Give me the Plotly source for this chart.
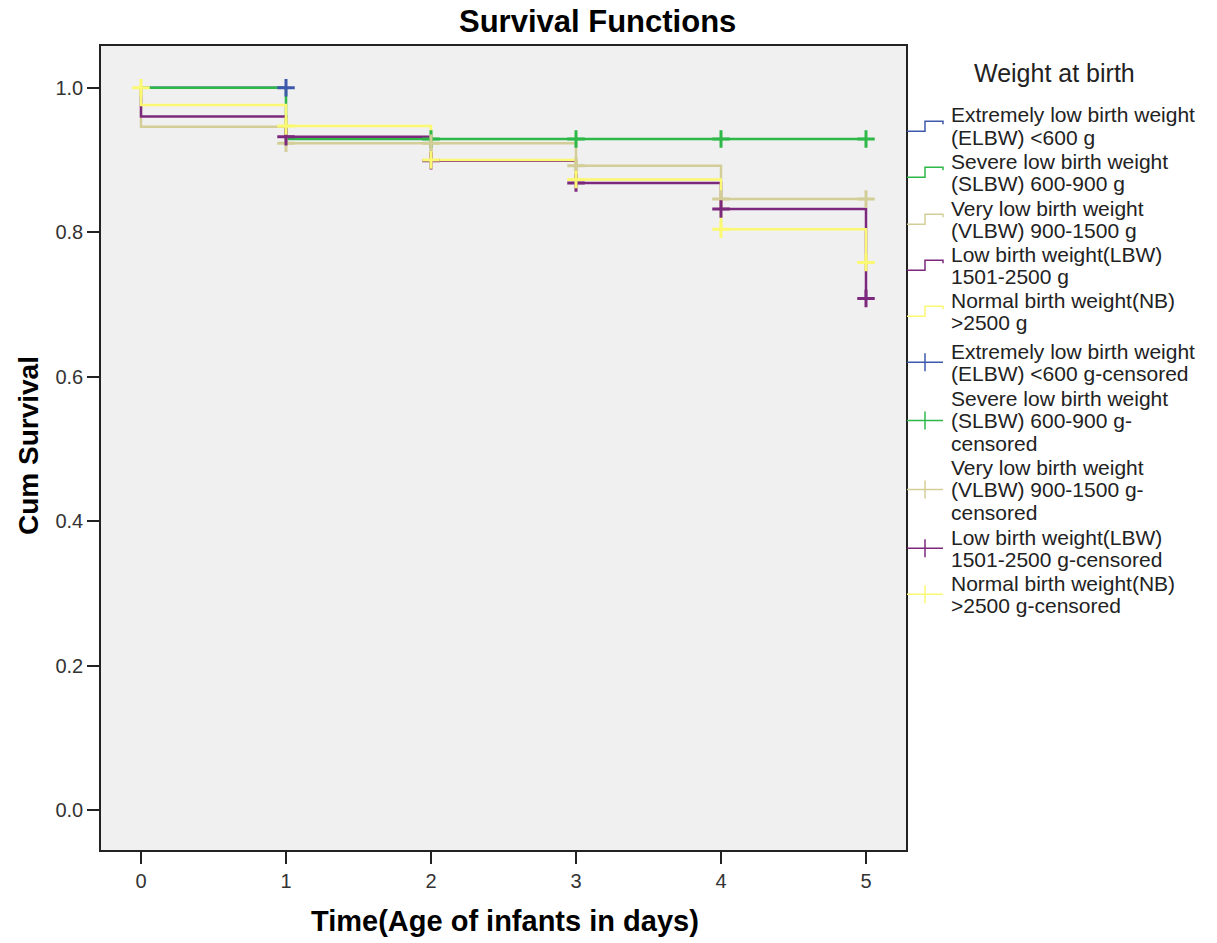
import plotly.graph_objects as go

# ---- Kaplan-Meier estimates by birth-weight group ----
group_names = [
    "Extremely low birth weight (ELBW) <600 g",
    "Severe low birth weight (SLBW) 600-900 g",
    "Very low birth weight (VLBW) 900-1500 g",
    "Low birth weight(LBW) 1501-2500 g",
    "Normal birth weight(NB) >2500 g",
]
group_colors = ["#3E58AC", "#2EB848", "#D3CE97", "#7C287D", "#FBF873"]

# step-function vertices (time in days, cumulative survival)
elbw_t = [0, 1]
elbw_s = [1.0, 1.0]
slbw_t = [0, 1, 2, 3, 4, 5]
slbw_s = [1.0, 0.929, 0.929, 0.929, 0.929, 0.929]
vlbw_t = [0, 0, 1, 2, 3, 4, 5]
vlbw_s = [1.0, 0.946, 0.923, 0.923, 0.892, 0.846, 0.846]
lbw_t = [0, 0, 1, 2, 3, 4, 5]
lbw_s = [1.0, 0.960, 0.932, 0.899, 0.868, 0.832, 0.708]
nb_t = [0, 0, 1, 2, 3, 4, 5]
nb_s = [1.0, 0.976, 0.947, 0.900, 0.873, 0.804, 0.758]

# censored observations
elbw_ct = [1]
elbw_cs = [1.0]
slbw_ct = [2, 3, 4, 5]
slbw_cs = [0.929, 0.929, 0.929, 0.929]
vlbw_ct = [1, 2, 3, 4, 5]
vlbw_cs = [0.923, 0.923, 0.892, 0.846, 0.846]
lbw_ct = [1, 2, 3, 4, 5]
lbw_cs = [0.932, 0.899, 0.868, 0.832, 0.708]
nb_ct = [0, 1, 2, 3, 4, 5]
nb_cs = [1.0, 0.947, 0.900, 0.873, 0.804, 0.758]

x_ticks = [0, 1, 2, 3, 4, 5]
y_ticks = [0.0, 0.2, 0.4, 0.6, 0.8, 1.0]

legend_title = "Weight at birth"
legend_labels = [
    ["Extremely low birth weight", "(ELBW) &lt;600 g"],
    ["Severe low birth weight", "(SLBW) 600-900 g"],
    ["Very low birth weight", "(VLBW) 900-1500 g"],
    ["Low birth weight(LBW)", "1501-2500 g"],
    ["Normal birth weight(NB)", "&gt;2500 g"],
    ["Extremely low birth weight", "(ELBW) &lt;600 g-censored"],
    ["Severe low birth weight", "(SLBW) 600-900 g-", "censored"],
    ["Very low birth weight", "(VLBW) 900-1500 g-", "censored"],
    ["Low birth weight(LBW)", "1501-2500 g-censored"],
    ["Normal birth weight(NB)", "&gt;2500 g-censored"],
]

steps = [(elbw_t, elbw_s), (slbw_t, slbw_s), (vlbw_t, vlbw_s), (lbw_t, lbw_s), (nb_t, nb_s)]
censored = [(elbw_ct, elbw_cs), (slbw_ct, slbw_cs), (vlbw_ct, vlbw_cs), (lbw_ct, lbw_cs), (nb_ct, nb_cs)]

# ---- page geometry (pixels) ----
W, H = 1217, 943
PL, PR, PT, PB = 101, 906, 46, 850
FONT = "Liberation Sans, Arial, Helvetica, sans-serif"


def px(xp):
    return (xp - PL) / (PR - PL)


def py(yp):
    return (PB - yp) / (PB - PT)


fig = go.Figure()

for (t, s), name, col in zip(steps, group_names, group_colors):
    fig.add_trace(go.Scatter(
        x=t, y=s, mode="lines", name=name,
        line=dict(color=col, width=2.5, shape="hv"),
        showlegend=False, hoverinfo="x+y+name",
    ))

for (t, s), name, col in zip(censored, group_names, group_colors):
    fig.add_trace(go.Scatter(
        x=t, y=s, mode="markers", name=name + "-censored",
        marker=dict(symbol="cross-thin", size=12.5, color=col,
                    line=dict(color=col, width=3)),
        showlegend=False, hoverinfo="x+y+name",
    ))

# ---- hand-drawn legend to the right of the plot ----
shapes = []
annotations = []

annotations.append(dict(
    text=legend_title, x=px(1054), y=py(73), xref="paper", yref="paper",
    xanchor="center", yanchor="middle", showarrow=False,
    font=dict(family=FONT, size=25, color="#222222"),
))

first_line_y = [115, 161, 208, 254, 300, 351, 398, 467, 537, 583]
line_pitch = 22.6
text_x = 949
icon_x0, icon_x1 = 907, 943

for i, lines in enumerate(legend_labels):
    ys = [first_line_y[i] + k * line_pitch for k in range(len(lines))]
    for txt, yl in zip(lines, ys):
        annotations.append(dict(
            text=txt, x=px(text_x), y=py(yl), xref="paper", yref="paper",
            xanchor="left", yanchor="middle", showarrow=False,
            font=dict(family=FONT, size=21, color="#222222"),
        ))
    yc = sum(ys) / len(ys)
    col = group_colors[i % 5]
    if i < 5:
        # step-shaped icon for the survival curve
        path = "M {:.5f},{:.5f} L {:.5f},{:.5f} L {:.5f},{:.5f} L {:.5f},{:.5f} L {:.5f},{:.5f}".format(
            px(icon_x0), py(yc + 5), px(925), py(yc + 5), px(925), py(yc - 5),
            px(icon_x1), py(yc - 5), px(icon_x1), py(yc - 2))
        shapes.append(dict(type="path", path=path, xref="paper", yref="paper",
                           line=dict(color=col, width=1.5)))
    else:
        # line with a cross for the censored marks
        shapes.append(dict(type="line", xref="paper", yref="paper",
                           x0=px(icon_x0), x1=px(icon_x1), y0=py(yc), y1=py(yc),
                           line=dict(color=col, width=1.5)))
        shapes.append(dict(type="line", xref="paper", yref="paper",
                           x0=px(925), x1=px(925), y0=py(yc - 9), y1=py(yc + 9),
                           line=dict(color=col, width=1.5)))

# axis titles
annotations.append(dict(
    text="<b>Time(Age of infants in days)</b>", x=px(505), y=py(921),
    xref="paper", yref="paper", xanchor="center", yanchor="middle", showarrow=False,
    font=dict(family=FONT, size=29, color="#000000"),
))
annotations.append(dict(
    text="<b>Cum Survival</b>", x=px(29), y=py(446), textangle=-90,
    xref="paper", yref="paper", xanchor="center", yanchor="middle", showarrow=False,
    font=dict(family=FONT, size=28, color="#000000"),
))
annotations.append(dict(
    text="<b>Survival Functions</b>", x=px(597), y=py(22),
    xref="paper", yref="paper", xanchor="center", yanchor="middle", showarrow=False,
    font=dict(family=FONT, size=31, color="#000000"),
))

axis_common = dict(
    showgrid=False, zeroline=False, showline=True, mirror=True,
    linecolor="#222222", linewidth=1.5,
    ticks="outside", ticklen=12, tickwidth=1.5, tickcolor="#222222",
    tickfont=dict(family=FONT, size=20, color="#333333"),
)

fig.update_layout(
    width=W, height=H,
    margin=dict(l=PL, r=W - PR, t=PT, b=H - PB, pad=0),
    paper_bgcolor="#ffffff", plot_bgcolor="#f0f0f0",
    showlegend=False,
    xaxis=dict(range=[(PL - 141) / 145, (PR - 141) / 145], tickvals=x_ticks,
               ticktext=[str(v) for v in x_ticks], **axis_common),
    yaxis=dict(range=[-(PB - 810) / 722.3, 1 + (87.7 - PT) / 722.3], tickvals=y_ticks,
               ticktext=["{:.1f}".format(v) for v in y_ticks], **axis_common),
    shapes=shapes, annotations=annotations,
)

fig.write_html("out.html")
